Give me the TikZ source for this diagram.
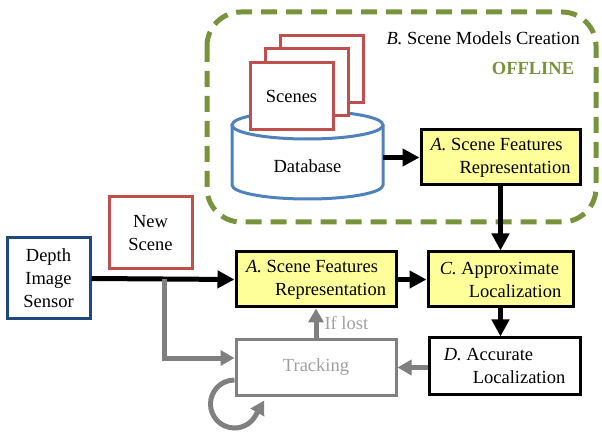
\documentclass[tikz,border=0pt]{standalone}
\usepackage{fontspec}
\setmainfont{Liberation Serif}
\usetikzlibrary{arrows.meta}
\definecolor{sred}{HTML}{C0504D}
\definecolor{sblue}{HTML}{4F81BD}
\definecolor{dblue}{HTML}{1F497D}
\definecolor{sgreen}{HTML}{77933C}
\definecolor{syellow}{HTML}{FFFF99}
\definecolor{agray}{HTML}{808080}
\definecolor{tgray}{HTML}{A0A0A0}
\tikzset{
  every node/.style={font=\fontsize{18.5}{23}\selectfont, inner sep=0pt},
  box/.style={draw=black, line width=3pt, rectangle, align=left},
  ybox/.style={box, fill=syellow},
  wbox/.style={box, fill=white},
  scenebox/.style={draw=sred, line width=3pt, fill=white, minimum width=83pt, minimum height=67pt, align=center},
  barrow/.style={draw=black, line width=5pt, -{Triangle[length=17pt,width=17pt]}},
  garrow/.style={draw=agray, line width=5pt, -{Triangle[length=14pt,width=15pt]}},
}
\begin{document}
\begin{tikzpicture}[x=1pt,y=-1pt]
\useasboundingbox (0,0) rectangle (602,435);
% offline region
\draw[sgreen, line width=5pt, dash pattern=on 16pt off 9pt, rounded corners=34pt] (207,12) rectangle (596,222);
\node[anchor=east] (btitle) at (580,38) {\textit{B.} Scene Models Creation};
\node[text=sgreen, font=\fontsize{18.5}{23}\selectfont\bfseries] (offline) at (533,68) {OFFLINE};
% database cylinder
\draw[sblue, line width=3pt, fill=white] (232,125) -- (232,185) arc[start angle=180, end angle=360, x radius=75.5pt, y radius=14pt] -- (383,125);
\draw[sblue, line width=3pt, fill=white] (307.5,125) ellipse[x radius=75.5pt, y radius=14pt];
\node (dbtext) at (307.5,166) {Database};
% scenes
\node[scenebox] (sc3) at (321.5,69) {};
\node[scenebox] (sc2) at (306.5,82.5) {};
\node[scenebox] (sc1) at (291.5,96.5) {Scenes};
% boxes
\node[ybox, minimum width=159pt, minimum height=55pt] (A1) at (500.5,157.5) {\textit{A.} Scene Features\\\hspace*{29pt}Representation};
\node[ybox, minimum width=160pt, minimum height=55pt] (A2) at (316,279.5) {\textit{A.} Scene Features\\\hspace*{29pt}Representation};
\node[ybox, minimum width=145pt, minimum height=55pt] (C) at (500.5,279.5) {\textit{C.} Approximate\\\hspace*{29pt}Localization};
\node[wbox, minimum width=151pt, minimum height=56pt] (D) at (504.5,366) {\textit{D.} Accurate\\\hspace*{29pt}Localization};
\node[draw=agray, line width=3pt, fill=white, minimum width=160pt, minimum height=55pt, text=tgray] (T) at (316,367.5) {Tracking};
\node[draw=dblue, line width=3pt, fill=white, minimum width=83pt, minimum height=81pt, align=center] (S) at (48.5,278.5) {Depth\\Image\\Sensor};
\node[draw=sred, line width=3pt, fill=white, minimum width=83pt, minimum height=72pt, align=center] (N) at (150.5,233) {New\\Scene};
% connectors
\coordinate (dbR) at (383,157.5);
\draw[barrow] (dbR) -- (A1.west);
\draw[barrow] (A1.south) -- (C.north);
\draw[barrow] (A2.east) -- (C.west);
\draw[barrow] (C.south) -- (C.south |- D.north);
\draw[barrow] (S.east) -- (A2.west);
\draw[garrow] (D.west |- T.east) -- (T.east);
\draw[garrow] (T.north) -- node[right=6pt, text=tgray] (iflost) {If lost} (A2.south);
\coordinate (br) at (164,279);
\draw[garrow] (br) |- ([yshift=9.5pt]T.west);
\draw[garrow] ([yshift=-12.5pt]T.west) arc[start angle=90, end angle=330, radius=24pt] -- ++(9,-15.6);
\end{tikzpicture}
\end{document}
